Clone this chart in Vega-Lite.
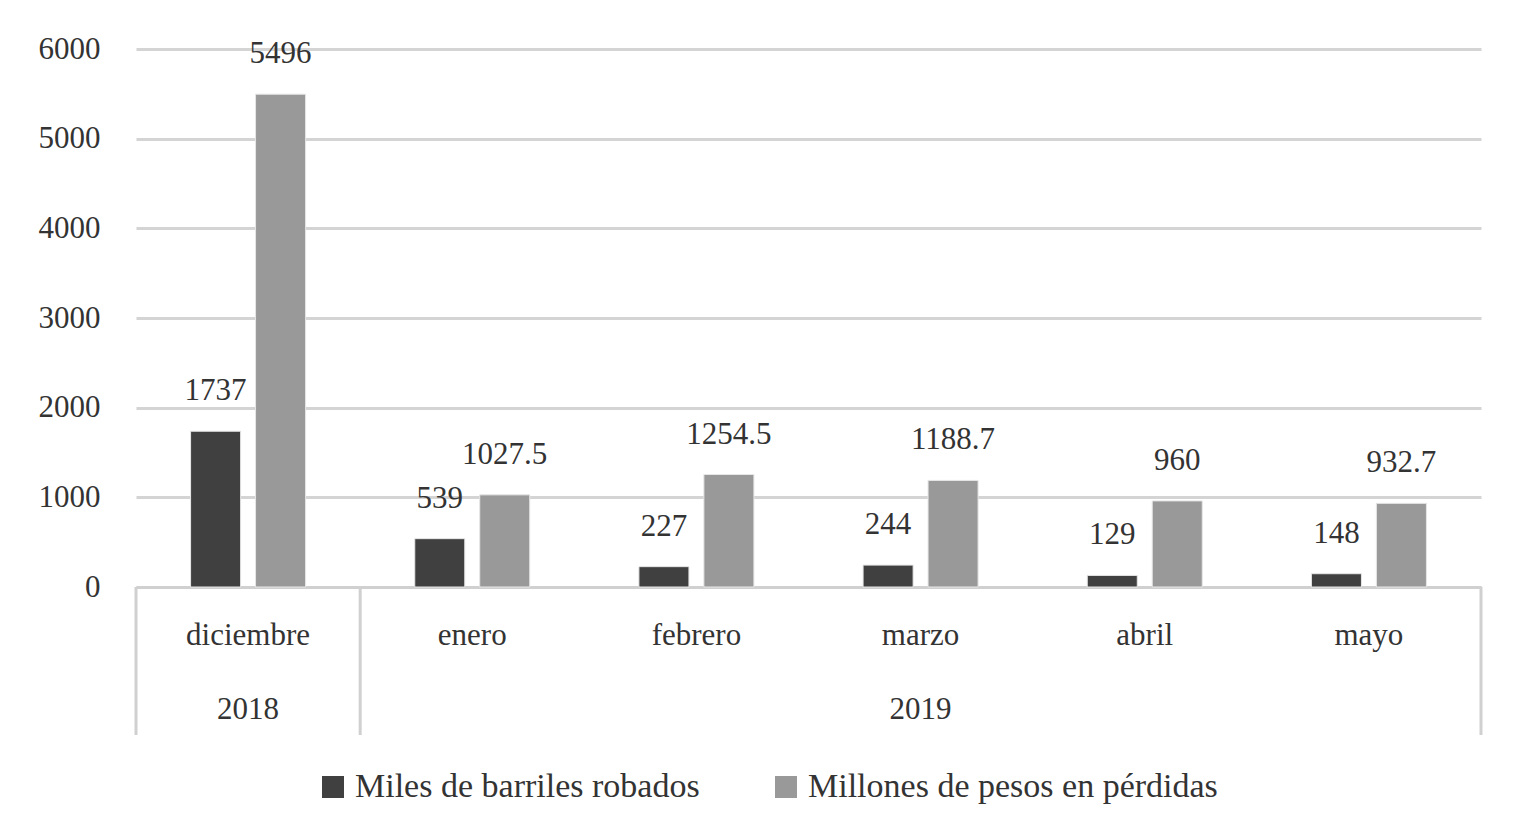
{
  "$schema": "https://vega.github.io/schema/vega-lite/v6.json",
  "width": 1345,
  "height": 538,
  "autosize": {"type": "none"},
  "padding": {"left": 136, "top": 49, "right": 37, "bottom": 232},
  "background": "white",
  "config": {
    "font": "Liberation Serif",
    "view": {"stroke": null},
    "text": {"font": "Liberation Serif"}
  },
  "data": {
    "values": [
      {"mes": "diciembre", "anio": "2018", "serie": "Miles de barriles robados", "valor": 1737},
      {"mes": "diciembre", "anio": "2018", "serie": "Millones de pesos en pérdidas", "valor": 5496},
      {"mes": "enero", "anio": "2019", "serie": "Miles de barriles robados", "valor": 539},
      {"mes": "enero", "anio": "2019", "serie": "Millones de pesos en pérdidas", "valor": 1027.5},
      {"mes": "febrero", "anio": "2019", "serie": "Miles de barriles robados", "valor": 227},
      {"mes": "febrero", "anio": "2019", "serie": "Millones de pesos en pérdidas", "valor": 1254.5},
      {"mes": "marzo", "anio": "2019", "serie": "Miles de barriles robados", "valor": 244},
      {"mes": "marzo", "anio": "2019", "serie": "Millones de pesos en pérdidas", "valor": 1188.7},
      {"mes": "abril", "anio": "2019", "serie": "Miles de barriles robados", "valor": 129},
      {"mes": "abril", "anio": "2019", "serie": "Millones de pesos en pérdidas", "valor": 960},
      {"mes": "mayo", "anio": "2019", "serie": "Miles de barriles robados", "valor": 148},
      {"mes": "mayo", "anio": "2019", "serie": "Millones de pesos en pérdidas", "valor": 932.7}
    ]
  },
  "layer": [
    {
      "mark": {"type": "bar", "stroke": "#e6e6e6", "strokeWidth": 1},
      "encoding": {
        "x": {
          "field": "mes",
          "type": "nominal",
          "sort": ["diciembre", "enero", "febrero", "marzo", "abril", "mayo"],
          "scale": {"paddingInner": 0.487, "paddingOuter": 0.2435},
          "axis": {
            "title": null,
            "labelAngle": 0,
            "labelFontSize": 31,
            "labelColor": "#333333",
            "labelPadding": 33,
            "ticks": false,
            "domain": true,
            "domainColor": "#d0d0d0",
            "domainWidth": 3,
            "grid": false
          }
        },
        "y": {
          "field": "valor",
          "type": "quantitative",
          "scale": {"domain": [0, 6000], "nice": false},
          "axis": {
            "title": null,
            "values": [0, 1000, 2000, 3000, 4000, 5000, 6000],
            "labelFontSize": 31,
            "labelColor": "#333333",
            "labelPadding": 36,
            "ticks": false,
            "domain": false,
            "grid": true,
            "gridColor": "#d4d4d4",
            "gridWidth": 3,
            "format": "d"
          }
        },
        "xOffset": {
          "field": "serie",
          "type": "nominal",
          "scale": {"paddingInner": 0.23, "paddingOuter": 0}
        },
        "color": {
          "field": "serie",
          "type": "nominal",
          "scale": {"range": ["#404040", "#999999"]},
          "legend": {
            "title": null,
            "orient": "none",
            "legendX": 180,
            "legendY": 721,
            "direction": "horizontal",
            "symbolType": "square",
            "symbolSize": 484,
            "symbolStrokeWidth": 0,
            "labelFontSize": 34,
            "labelColor": "#333333",
            "labelOffset": 5,
            "columnPadding": 69,
            "labelLimit": 600
          }
        }
      }
    },
    {
      "mark": {"type": "text", "baseline": "alphabetic", "dy": -31, "fontSize": 31, "color": "#333333"},
      "encoding": {
        "x": {"field": "mes", "type": "nominal", "sort": ["diciembre", "enero", "febrero", "marzo", "abril", "mayo"]},
        "y": {"field": "valor", "type": "quantitative"},
        "xOffset": {"field": "serie", "type": "nominal"},
        "text": {"field": "valor", "type": "nominal"}
      }
    },
    {
      "transform": [{"filter": "datum.serie == 'Miles de barriles robados' && (datum.mes == 'diciembre' || datum.mes == 'enero')"}],
      "mark": {"type": "rule", "color": "#d0d0d0", "strokeWidth": 3, "y2Offset": 148},
      "encoding": {
        "x": {"field": "mes", "type": "nominal", "bandPosition": -0.4746, "sort": ["diciembre", "enero", "febrero", "marzo", "abril", "mayo"]},
        "y": {"datum": 0},
        "y2": {"datum": 0}
      }
    },
    {
      "transform": [{"filter": "datum.serie == 'Miles de barriles robados' && datum.mes == 'mayo'"}],
      "mark": {"type": "rule", "color": "#d0d0d0", "strokeWidth": 3, "y2Offset": 148},
      "encoding": {
        "x": {"field": "mes", "type": "nominal", "bandPosition": 1.4746, "sort": ["diciembre", "enero", "febrero", "marzo", "abril", "mayo"]},
        "y": {"datum": 0},
        "y2": {"datum": 0}
      }
    },
    {
      "transform": [{"filter": "datum.serie == 'Miles de barriles robados' && (datum.mes == 'diciembre' || datum.mes == 'marzo')"}],
      "mark": {"type": "text", "baseline": "alphabetic", "dy": 132, "fontSize": 31, "color": "#333333"},
      "encoding": {
        "x": {"field": "mes", "type": "nominal", "sort": ["diciembre", "enero", "febrero", "marzo", "abril", "mayo"]},
        "y": {"datum": 0},
        "text": {"field": "anio", "type": "nominal"}
      }
    }
  ]
}
